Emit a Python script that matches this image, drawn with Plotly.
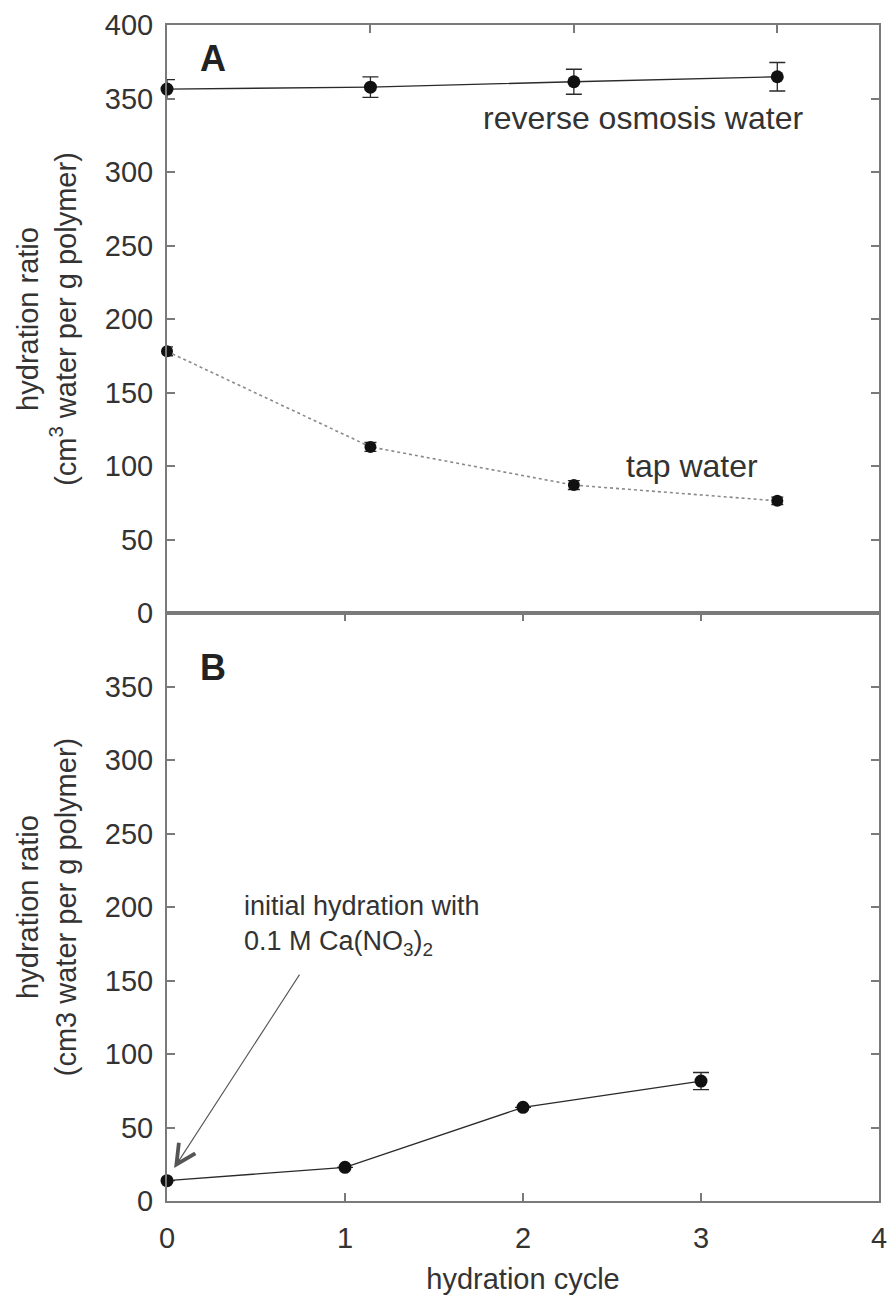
import plotly.graph_objects as go

# ---- data ----
cycles_a = [0, 1, 2, 3]
ro_water = [356.4, 357.7, 361.4, 364.8]
ro_err = [6.5, 7.0, 8.5, 9.7]
tap_water = [178.0, 113.0, 87.0, 76.3]
tap_err = [3.0, 3.0, 3.0, 2.5]

cycles_b = [0, 1, 2, 3]
caNO3_water = [13.8, 22.9, 63.7, 81.6]
caNO3_err = [0.0, 0.0, 0.0, 5.8]

y_ticks_a = [0, 50, 100, 150, 200, 250, 300, 350, 400]
y_ticks_b = [0, 50, 100, 150, 200, 250, 300, 350]
x_ticks_b = [0, 1, 2, 3, 4]

FONT = "Liberation Sans, Arial, Helvetica, sans-serif"
TXT = "#333333"
AX = "#7a7a7a"
LINE = "#2a2a2a"

fig = go.Figure()

fig.add_trace(go.Scatter(
    x=cycles_a, y=ro_water, mode="lines+markers", xaxis="x", yaxis="y",
    line=dict(color=LINE, width=1.3),
    marker=dict(color="#111111", size=13, symbol="circle"),
    error_y=dict(type="data", array=ro_err, color=LINE, thickness=1.3, width=8),
    cliponaxis=False, showlegend=False))

fig.add_trace(go.Scatter(
    x=cycles_a, y=tap_water, mode="lines+markers", xaxis="x", yaxis="y",
    line=dict(color="#8a8a8a", width=1.6, dash="dot"),
    marker=dict(color="#111111", size=12, symbol="circle"),
    error_y=dict(type="data", array=tap_err, color=LINE, thickness=1.3, width=6),
    cliponaxis=False, showlegend=False))

fig.add_trace(go.Scatter(
    x=cycles_b, y=caNO3_water, mode="lines+markers", xaxis="x2", yaxis="y2",
    line=dict(color=LINE, width=1.3),
    marker=dict(color="#111111", size=13, symbol="circle"),
    error_y=dict(type="data", array=caNO3_err, color=LINE, thickness=1.3, width=8),
    cliponaxis=False, showlegend=False))

axis_common = dict(showgrid=False, zeroline=False, showline=True, linecolor=AX,
                   linewidth=2, ticks="inside", ticklen=8, tickwidth=1.5,
                   tickcolor=AX, tickfont=dict(family=FONT, size=29, color=TXT))

ytitle_font = dict(family=FONT, size=29, color=TXT)

fig.update_layout(
    width=894, height=1307,
    margin=dict(l=167, r=7, t=25, b=106),
    paper_bgcolor="white", plot_bgcolor="white",
    font=dict(family=FONT, color=TXT),
    xaxis=dict(axis_common, domain=[0, 1], anchor="y", side="top", range=[0, 3.5],
               tickvals=[1, 2, 3], showticklabels=False, mirror=True),
    yaxis=dict(axis_common, domain=[0.5, 1], anchor="x", range=[0, 400],
               tickvals=y_ticks_a, mirror="ticks", ticklabelstandoff=6,
               title=dict(text="hydration ratio<br>(cm<sup>3</sup> water per g polymer)",
                          font=ytitle_font, standoff=20)),
    xaxis2=dict(axis_common, domain=[0, 1], anchor="y2", range=[0, 4],
                tickvals=x_ticks_b, mirror="ticks", ticklabelstandoff=10,
                title=dict(text="hydration cycle", font=dict(family=FONT, size=29, color=TXT),
                           standoff=16)),
    yaxis2=dict(axis_common, domain=[0, 0.5], anchor="x2", range=[0, 400],
                tickvals=y_ticks_b, mirror="ticks", ticklabelstandoff=6,
                title=dict(text="hydration ratio<br>(cm3 water per g polymer)",
                           font=ytitle_font, standoff=20)),
)

ann_font = dict(family=FONT, size=32, color=TXT)
fig.add_annotation(x=0.224, y=377.5, xref="x", yref="y", text="<b>A</b>",
                   showarrow=False, font=dict(family=FONT, size=36, color="#222222"))
fig.add_annotation(x=0.256, y=362.7, xref="x2", yref="y2", text="<b>B</b>",
                   showarrow=False, font=dict(family=FONT, size=36, color="#222222"))
fig.add_annotation(x=2.338, y=336.6, xref="x", yref="y", text="reverse osmosis water",
                   showarrow=False, font=ann_font)
fig.add_annotation(x=2.58, y=100, xref="x", yref="y", text="tap water",
                   showarrow=False, font=ann_font)
fig.add_annotation(x=0.422, y=187.4, xref="x2", yref="y2",
                   text="initial hydration with<br>0.1 M Ca(NO<sub>3</sub>)<sub>2</sub>",
                   showarrow=False, xanchor="left", align="left",
                   font=dict(family=FONT, size=27, color=TXT))
fig.add_annotation(x=0.04, y=22.4, xref="x2", yref="y2", ax=0.75, ay=155,
                   axref="x2", ayref="y2", text="", showarrow=True,
                   arrowhead=5, arrowsize=3.5, arrowwidth=1.1, arrowcolor="#555555")

fig.write_html("out.html")
